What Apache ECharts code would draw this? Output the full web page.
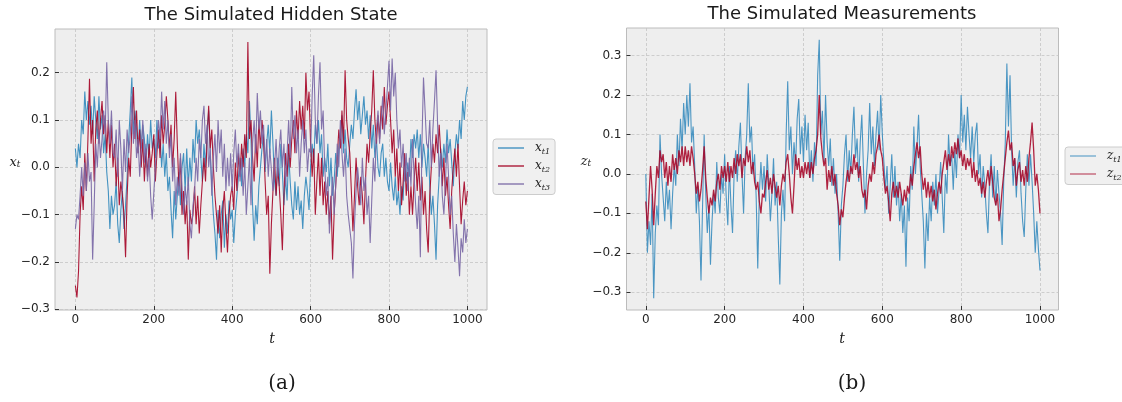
<!DOCTYPE html>
<html><head><meta charset="utf-8">
<script src="https://cdn.jsdelivr.net/npm/echarts@6/dist/echarts.min.js"></script>
<style>html,body{margin:0;padding:0;background:#fff}#c{width:1122px;height:402px}</style>
</head><body><div id="c"></div>
<script>
// time step between stored samples (t = 0..1000)
const STEP = 4;

// (a) hidden state x_t1, x_t2, x_t3  (one row = 100 time units)
const X1 = [
 0.04,0.0,0.05,0.02,0.1,0.07,0.16,0.1,0.14,0.09,0.13,0.07,0.15,0.1,0.06,0.15,0.08,0.11,0.03,0.07,-0.01,-0.05,-0.13,-0.06,-0.1,
 -0.08,-0.03,-0.12,-0.16,-0.09,-0.05,-0.13,-0.08,-0.02,0.06,0.12,0.19,0.07,0.12,0.08,0.03,0.1,0.04,0.09,0.06,0.0,0.07,0.02,0.1,0.04,
 0.06,0.02,0.1,0.04,0.07,0.0,0.05,-0.02,0.03,-0.05,-0.02,-0.09,-0.15,-0.05,-0.11,-0.06,-0.01,-0.08,0.0,0.03,-0.05,0.04,-0.04,0.02,-0.03,
 0.06,0.01,0.1,0.05,0.08,0.02,-0.03,0.05,0.0,0.08,0.12,0.03,-0.04,-0.1,-0.14,-0.195,-0.09,-0.15,-0.1,-0.07,-0.17,-0.1,-0.14,-0.07,-0.11,
 -0.09,-0.16,-0.1,-0.06,-0.02,0.02,-0.04,0.04,0.0,0.07,0.03,0.14,0.06,-0.08,-0.155,-0.08,-0.12,-0.04,0.0,0.04,0.07,-0.01,0.05,0.09,0.03,
 0.12,0.05,-0.03,-0.06,0.02,-0.04,0.05,-0.01,-0.08,-0.02,-0.07,0.03,-0.03,-0.08,-0.11,-0.03,-0.09,-0.04,-0.1,-0.07,-0.13,-0.06,-0.02,-0.05,-0.09,
 0.0,0.05,0.01,0.09,0.05,0.1,0.03,0.07,-0.02,0.02,-0.01,0.05,-0.04,0.02,-0.06,-0.03,0.03,-0.02,0.04,0.07,0.11,0.03,0.08,0.02,0.0,
 0.05,0.09,0.06,0.12,0.165,0.1,0.14,0.07,0.11,0.15,0.09,0.12,0.06,0.11,0.04,0.09,0.02,0.06,0.0,-0.02,0.03,0.05,-0.02,0.02,-0.03,
 -0.05,0.01,-0.04,-0.07,-0.02,-0.08,-0.05,-0.1,-0.04,-0.07,0.02,-0.03,0.01,-0.02,0.06,0.02,0.07,0.04,0.08,0.02,0.07,0.0,0.05,0.02,-0.02,
 0.05,-0.04,-0.1,-0.06,-0.12,-0.195,-0.08,-0.02,0.04,0.0,0.05,0.01,0.08,0.03,0.06,0.01,-0.04,0.03,0.07,0.04,0.1,0.06,0.14,0.1,0.15,
 0.17];
const X2 = [
 -0.25,-0.275,-0.22,-0.1,-0.04,-0.09,0.03,-0.05,0.06,0.187,0.05,0.1,-0.03,0.08,0.12,0.05,0.1,0.14,0.07,0.11,0.03,0.1,0.02,0.09,0.0,
 0.05,-0.04,0.02,-0.08,-0.03,-0.06,-0.1,-0.19,-0.06,0.02,-0.02,0.09,0.17,0.06,0.12,0.03,0.08,0.0,0.06,-0.03,0.04,-0.02,0.05,0.0,0.03,
 0.07,-0.03,0.03,0.08,0.02,0.11,0.05,0.09,0.15,0.1,0.04,0.09,0.0,0.06,0.16,0.05,-0.04,0.02,-0.1,-0.05,-0.12,-0.07,-0.195,-0.09,-0.12,
 -0.1,-0.04,-0.12,-0.06,-0.14,-0.08,-0.03,0.02,-0.03,0.06,0.13,0.04,0.08,0.0,-0.06,-0.1,-0.14,-0.08,-0.18,-0.09,-0.05,-0.12,-0.18,-0.1,-0.06,
 -0.04,-0.09,0.01,-0.05,0.03,-0.02,0.05,0.0,0.07,0.02,0.265,0.06,0.1,0.02,-0.03,0.07,0.0,0.1,0.04,0.1,0.06,-0.03,-0.1,-0.06,-0.225,
 -0.12,-0.05,0.02,-0.06,0.0,-0.04,-0.1,-0.175,-0.06,0.03,-0.02,0.05,0.0,0.06,0.1,0.03,0.12,0.06,0.14,0.08,0.13,0.06,0.2,0.12,0.16,
 0.05,-0.02,0.04,-0.1,-0.03,0.03,-0.06,0.02,-0.08,-0.03,-0.1,-0.05,-0.12,-0.06,-0.195,-0.1,-0.04,0.02,0.08,0.04,0.12,0.05,0.205,0.1,0.06,
 0.03,-0.05,-0.135,-0.06,0.02,-0.04,-0.08,-0.02,-0.06,-0.12,-0.03,0.05,0.01,0.07,0.12,0.205,0.1,0.05,0.11,0.06,0.13,0.08,0.17,0.09,0.13,
 0.16,0.1,0.03,0.08,-0.02,0.04,-0.05,0.01,-0.08,-0.03,0.03,-0.06,-0.01,-0.1,-0.04,-0.1,-0.03,0.02,-0.05,0.01,-0.07,-0.02,-0.1,-0.05,-0.13,
 -0.18,-0.06,0.0,0.05,0.01,0.07,0.03,0.09,0.03,-0.04,0.02,-0.06,-0.02,-0.08,-0.13,-0.05,0.0,0.04,-0.02,0.05,-0.04,-0.12,-0.07,-0.03,-0.08,
 -0.05];
const X3 = [
 -0.13,-0.1,-0.11,-0.06,0.0,-0.06,0.01,-0.05,0.03,-0.03,-0.01,-0.195,-0.08,0.05,0.0,0.08,0.02,0.06,0.12,0.07,0.222,0.1,0.05,0.12,0.03,
 0.02,0.08,-0.02,0.1,0.04,-0.05,0.06,-0.01,0.08,0.03,0.07,0.15,0.05,0.1,0.02,0.06,-0.02,0.04,0.1,0.01,0.05,-0.03,0.02,-0.06,-0.11,
 -0.11,0.0,0.05,0.1,0.06,0.16,0.08,0.14,0.05,0.1,0.02,0.07,-0.03,0.02,-0.08,-0.02,-0.06,0.03,-0.04,-0.1,-0.04,-0.08,-0.02,-0.12,-0.15,
 -0.08,-0.05,0.02,-0.03,0.06,0.02,0.1,0.13,0.05,0.09,0.0,0.04,-0.06,0.02,0.07,-0.01,0.1,0.03,0.08,-0.02,0.05,-0.05,0.02,-0.04,0.03,
 -0.05,0.03,0.08,0.0,0.05,-0.03,0.02,-0.06,0.01,-0.1,-0.04,0.02,-0.08,0.05,0.1,0.03,0.157,0.08,0.12,0.05,0.09,0.0,0.06,-0.02,0.04,
 0.04,-0.05,0.0,0.06,-0.02,0.04,0.08,0.0,0.05,-0.04,0.03,0.1,0.02,0.17,0.06,0.11,0.03,0.08,-0.02,0.05,0.1,0.03,0.08,-0.01,0.04,
 0.03,0.15,0.237,0.1,0.05,0.15,0.222,0.08,0.12,0.0,-0.06,-0.02,-0.14,-0.08,-0.02,-0.1,-0.04,0.05,0.0,0.1,0.03,-0.02,0.04,-0.06,-0.1,
 -0.1,-0.16,-0.235,-0.12,-0.05,0.0,-0.04,-0.08,0.02,-0.05,-0.02,-0.1,-0.06,-0.16,-0.07,0.02,-0.03,0.08,0.12,0.05,0.1,0.15,0.07,0.12,0.17,
 0.225,0.12,0.23,0.15,0.2,0.1,0.04,0.08,0.0,0.05,-0.03,0.03,-0.05,0.02,-0.04,0.06,-0.02,-0.08,-0.13,-0.06,-0.19,0.05,0.19,0.12,0.05,
 0.04,0.1,0.0,0.08,0.14,0.205,0.09,-0.02,0.03,-0.06,-0.1,-0.03,0.05,-0.02,-0.1,-0.06,-0.14,-0.2,-0.12,-0.17,-0.23,-0.15,-0.18,-0.11,-0.16,
 -0.13];

// (b) measurements z_t1, z_t2
const Z1 = [
 0.0,-0.2,-0.12,-0.18,-0.05,-0.315,-0.15,-0.08,-0.13,0.1,0.0,-0.06,-0.12,-0.02,-0.09,-0.04,-0.14,-0.05,0.02,-0.03,0.1,0.02,0.14,0.06,0.18,
 0.1,0.2,0.12,0.23,0.08,0.12,0.02,-0.1,-0.03,-0.12,-0.27,-0.08,0.1,-0.05,-0.15,-0.08,-0.23,-0.12,-0.05,-0.1,0.03,-0.06,-0.1,0.0,-0.05,
 0.05,-0.06,-0.13,0.02,-0.08,-0.15,0.0,0.06,-0.02,0.07,0.13,0.0,-0.1,0.04,0.1,0.23,0.08,0.12,0.0,0.05,-0.06,-0.24,-0.05,0.03,-0.04,
 0.02,-0.07,0.05,-0.03,-0.12,-0.05,0.04,-0.08,-0.02,-0.16,-0.28,-0.1,-0.04,-0.12,0.1,0.235,0.06,0.12,0.0,0.08,0.02,0.14,0.19,0.05,0.12,
 0.03,0.15,0.06,0.13,-0.01,0.06,-0.02,0.08,0.02,0.25,0.34,0.1,0.16,0.03,0.2,0.08,0.02,0.09,-0.03,0.04,-0.05,0.0,-0.1,-0.22,-0.08,
 -0.03,0.05,0.1,-0.02,0.06,0.0,0.1,0.17,0.04,0.09,-0.02,0.08,0.15,0.02,-0.1,0.0,0.06,0.18,0.05,0.12,0.02,0.1,0.16,0.06,0.2,
 0.1,0.03,-0.04,0.02,-0.1,-0.03,0.05,-0.06,0.02,-0.08,-0.02,-0.12,-0.05,-0.15,-0.08,-0.235,-0.06,-0.12,0.02,-0.04,0.12,0.0,0.07,0.15,0.02,
 -0.05,-0.12,-0.24,-0.1,-0.17,-0.06,-0.12,-0.02,-0.08,0.0,-0.1,-0.04,0.03,-0.06,-0.15,0.0,-0.05,0.1,0.02,0.05,-0.04,0.06,-0.01,0.1,0.04,
 0.2,0.08,0.15,0.06,0.17,0.1,0.04,0.12,0.03,0.1,0.13,0.0,0.05,-0.06,0.02,-0.03,-0.1,-0.15,-0.02,0.05,-0.06,0.02,-0.08,0.01,-0.05,
 -0.1,-0.18,-0.02,0.08,0.28,0.12,0.25,0.06,-0.03,0.04,-0.06,0.03,0.06,-0.05,-0.12,-0.16,-0.04,0.05,-0.03,0.05,-0.02,-0.1,-0.2,-0.12,-0.19,
 -0.245];
const Z2 = [
 -0.07,-0.14,-0.06,0.02,-0.04,-0.13,-0.05,0.02,-0.01,0.06,0.03,0.05,-0.01,0.03,-0.03,0.02,-0.02,0.05,0.01,0.04,0.0,0.06,0.03,0.07,0.02,
 0.07,0.03,0.06,0.02,0.07,0.04,0.0,-0.05,-0.02,-0.07,-0.04,0.01,0.07,-0.01,-0.06,-0.1,-0.06,-0.08,-0.04,-0.07,-0.02,0.0,-0.04,0.02,-0.01,
 0.02,-0.02,0.03,-0.02,0.02,-0.01,0.04,0.0,0.05,0.02,0.05,-0.01,0.04,0.02,0.07,0.03,0.06,0.0,0.03,-0.02,-0.04,-0.02,-0.07,-0.1,-0.05,
 -0.06,-0.02,0.01,-0.04,-0.01,-0.05,0.0,-0.03,-0.06,-0.03,-0.08,-0.03,0.0,-0.02,0.03,0.05,0.0,-0.06,-0.1,-0.03,0.05,0.01,0.04,-0.01,0.02,
 -0.01,0.03,0.0,0.03,-0.01,0.03,0.0,0.04,0.06,0.1,0.2,0.09,0.05,0.02,0.04,-0.04,0.01,-0.02,0.02,-0.03,0.0,-0.05,-0.08,-0.13,-0.09,
 -0.11,-0.06,-0.02,0.01,-0.02,0.02,0.0,0.05,0.01,0.03,-0.01,0.02,-0.04,-0.06,-0.04,-0.09,-0.03,0.0,-0.02,0.03,0.0,0.05,0.07,0.1,0.06,
 0.04,-0.01,-0.05,-0.03,-0.07,-0.12,-0.05,-0.02,-0.06,-0.03,-0.06,-0.02,-0.05,-0.08,-0.04,-0.07,-0.03,-0.05,0.0,-0.03,0.02,0.05,0.08,0.04,0.07,
 0.0,-0.04,-0.01,-0.06,-0.02,-0.06,-0.03,-0.07,-0.04,-0.09,-0.05,-0.02,-0.05,0.0,0.03,0.06,0.01,0.05,0.02,0.07,0.04,0.08,0.05,0.09,0.04,
 0.06,0.02,0.05,0.01,0.04,0.02,0.04,-0.01,0.03,-0.02,0.01,-0.03,-0.01,-0.05,-0.02,-0.06,-0.02,0.01,-0.03,0.02,-0.02,-0.06,-0.08,-0.05,-0.12,
 -0.09,-0.04,0.0,0.04,0.08,0.11,0.06,0.08,0.02,0.04,-0.03,0.01,0.03,-0.02,0.01,-0.03,0.02,-0.02,0.04,0.08,0.13,0.06,-0.03,0.0,-0.04,
 -0.1];

const xTicks = [0, 200, 400, 600, 800, 1000];
const yTicksA = [-0.3, -0.2, -0.1, 0.0, 0.1, 0.2];
const yTicksB = [-0.3, -0.2, -0.1, 0.0, 0.1, 0.2, 0.3];

const pairs = arr => arr.map((v, i) => [i * STEP, v]);
const fmtY = v => (v < -1e-9 ? '\u2212' : '') + Math.abs(v).toFixed(1);

function xAxis(gi, min, max) {
  return {
    type: 'value', gridIndex: gi, min: min, max: max,
    axisLine: { show: false, onZero: false },
    axisTick: { show: true, inside: true, length: 4, customValues: xTicks, lineStyle: { color: '#333', width: 1 } },
    axisLabel: { customValues: xTicks, formatter: v => String(Math.round(v)), color: '#262626', fontFamily: 'DejaVu Sans', fontSize: 12, margin: 4 },
    splitLine: { show: true, lineStyle: { color: '#c4c4c4', type: [3, 2], width: 0.8 } }
  };
}
function yAxis(gi, min, max, ticks) {
  return {
    type: 'value', gridIndex: gi, min: min, max: max,
    axisLine: { show: false, onZero: false },
    axisTick: { show: true, inside: true, length: 4, customValues: ticks, lineStyle: { color: '#333', width: 1 } },
    axisLabel: { customValues: ticks, formatter: fmtY, color: '#262626', fontFamily: 'DejaVu Sans', fontSize: 12, margin: 5 },
    splitLine: { show: true, lineStyle: { color: '#c4c4c4', type: [3, 2], width: 0.8 } }
  };
}
function line(name, gi, data, color, w) {
  return {
    name: name, type: 'line', xAxisIndex: gi, yAxisIndex: gi, data: pairs(data),
    showSymbol: false, symbol: 'none', animation: false, silent: true,
    color: color, lineStyle: { width: w, color: color }
  };
}
const legendRich = {
  v: { fontFamily: 'DejaVu Serif', fontStyle: 'italic', fontSize: 12, color: '#222', lineHeight: 15 },
  s: { fontFamily: 'DejaVu Serif', fontStyle: 'italic', fontSize: 8, color: '#222', verticalAlign: 'bottom', lineHeight: 11 }
};
function legend(left, top, items) {
  return {
    left: left, top: top, orient: 'vertical', data: items, selectedMode: false,
    icon: 'rect', itemWidth: 26, itemHeight: 1.4, itemGap: 4.5,
    padding: [3, 5, 3, 5],
    backgroundColor: '#f0f0f0', borderColor: '#cccccc', borderWidth: 1, borderRadius: 3,
    formatter: n => '{v|' + n[0] + '}{s|t' + n[1] + '}',
    textStyle: { padding: [0, 0, 0, 6], rich: legendRich }
  };
}
const nameRich = {
  v: { fontFamily: 'DejaVu Serif', fontStyle: 'italic', fontSize: 13, fill: '#222' },
  s: { fontFamily: 'DejaVu Serif', fontStyle: 'italic', fontSize: 9, fill: '#222', verticalAlign: 'bottom', lineHeight: 12 }
};
function txt(x, y, text, font) {
  return { type: 'text', x: x, y: y, silent: true,
    style: { text: text, font: font, fill: '#1a1a1a', align: 'center', verticalAlign: 'middle' } };
}
function rtxt(x, y, text) {
  return { type: 'text', x: x, y: y, silent: true,
    style: { text: text, rich: nameRich, align: 'center', verticalAlign: 'middle' } };
}

const chart = echarts.init(document.getElementById('c'), null, { renderer: 'canvas' });
chart.setOption({
  animation: false,
  backgroundColor: '#ffffff',
  grid: [
    { left: 55, top: 29, width: 432, height: 281, show: true, backgroundColor: '#eeeeee', borderColor: '#bcbcbc', borderWidth: 1 },
    { left: 626.5, top: 28, width: 432, height: 282, show: true, backgroundColor: '#eeeeee', borderColor: '#bcbcbc', borderWidth: 1 }
  ],
  xAxis: [xAxis(0, -52, 1050), xAxis(1, -49, 1047)],
  yAxis: [yAxis(0, -0.3015, 0.2924, yTicksA), yAxis(1, -0.345, 0.370, yTicksB)],
  legend: [
    legend(493, 139, ['x1', 'x2', 'x3']),
    legend(1065, 147, [
      { name: 'z1', itemStyle: { color: 'rgba(52,138,189,0.65)' } },
      { name: 'z2', itemStyle: { color: 'rgba(166,6,40,0.6)' } }
    ])
  ],
  series: [
    line('x1', 0, X1, 'rgba(52,138,189,0.92)', 1.1),
    line('x2', 0, X2, 'rgba(166,6,40,0.92)', 1.1),
    line('x3', 0, X3, 'rgba(122,104,166,0.92)', 1.1),
    line('z1', 1, Z1, 'rgba(52,138,189,0.88)', 1.1),
    line('z2', 1, Z2, 'rgba(166,6,40,0.88)', 1.3)
  ],
  graphic: [
    txt(271, 15, 'The Simulated Hidden State', '18px "DejaVu Sans"'),
    txt(842, 14, 'The Simulated Measurements', '18px "DejaVu Sans"'),
    txt(272, 339, 't', 'italic 14px "DejaVu Serif"'),
    txt(842, 339, 't', 'italic 14px "DejaVu Serif"'),
    rtxt(15, 163, '{v|x}{s|t}'),
    rtxt(586, 162, '{v|z}{s|t}'),
    txt(282, 384, '(a)', '20px "DejaVu Serif"'),
    txt(852, 384, '(b)', '20px "DejaVu Serif"')
  ]
});
</script>
</body></html>
